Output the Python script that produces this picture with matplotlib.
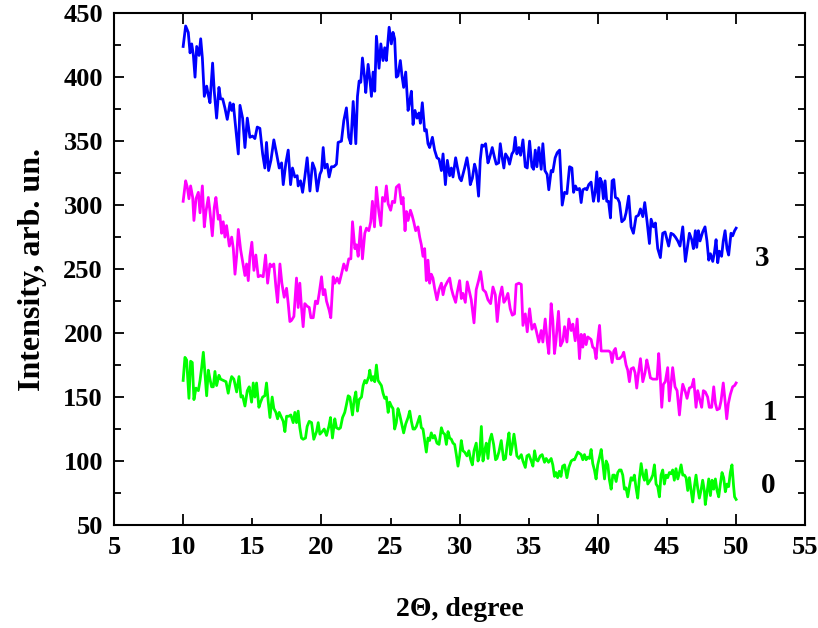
import matplotlib
matplotlib.use('Agg')
import matplotlib.pyplot as plt
from matplotlib.ticker import FixedLocator, FormatStrFormatter

plt.rcParams['font.family'] = ['Liberation Serif', 'DejaVu Serif']
plt.rcParams['font.weight'] = 'bold'

# curve "3" (blue)
x3 = [10.0, 10.18, 10.37, 10.5, 10.62, 10.74, 10.86, 10.98, 11.15, 11.27, 11.39, 11.53, 11.7, 11.82, 11.94,
      12.13, 12.25, 12.42, 12.59, 12.71, 12.86, 13.02, 13.19, 13.39, 13.51, 13.63, 13.75, 13.99, 14.11, 14.3,
      14.47, 14.64, 14.83, 15.02, 15.19, 15.36, 15.55, 15.75, 15.91, 16.03, 16.18, 16.35, 16.56, 16.76, 16.95,
      17.12, 17.24, 17.43, 17.6, 17.77, 17.91, 18.08, 18.25, 18.32, 18.49, 18.64, 18.8, 18.97, 19.17, 19.36,
      19.53, 19.7, 19.89, 20.01, 20.13, 20.25, 20.42, 20.56, 20.73, 20.9, 21.09, 21.21, 21.45, 21.62, 21.81,
      21.98, 22.13, 22.3, 22.49, 22.61, 22.73, 22.85, 22.97, 23.12, 23.21, 23.38, 23.5, 23.62, 23.74, 23.86,
      23.98, 24.17, 24.3, 24.46, 24.58, 24.7, 24.9,
      25.06, 25.18, 25.3, 25.42, 25.54, 25.71, 25.83, 25.95, 26.1, 26.27, 26.39, 26.51, 26.63, 26.77, 26.92,
      27.06, 27.16, 27.3, 27.47, 27.59, 27.71, 27.83, 28.03, 28.19, 28.36, 28.51, 28.68, 28.8, 28.97, 29.11,
      29.28, 29.4, 29.52, 29.71, 29.83, 30.0, 30.12, 30.24, 30.36, 30.53, 30.67, 30.77, 30.92, 31.08, 31.2,
      31.37, 31.49, 31.61, 31.73, 31.88, 32.05, 32.17, 32.36, 32.53, 32.65, 32.82, 32.94, 33.08, 33.2, 33.32,
      33.49, 33.61, 33.78, 33.9, 34.02, 34.14, 34.29, 34.41, 34.58, 34.75, 34.89, 35.06, 35.23, 35.35, 35.47,
      35.59, 35.73, 35.9, 36.02, 36.17, 36.33, 36.45, 36.62, 36.74, 36.91, 37.06, 37.23, 37.42, 37.59, 37.76,
      37.95, 38.12, 38.24, 38.38, 38.5, 38.67,
      38.79, 38.91, 39.08, 39.2, 39.34, 39.51, 39.68, 39.8, 39.92, 40.04, 40.16, 40.28, 40.4, 40.52, 40.64,
      40.77, 40.91, 41.03, 41.15, 41.27, 41.44, 41.56, 41.73, 41.92, 42.04, 42.23, 42.4, 42.57, 42.76, 42.93,
      43.08, 43.25, 43.39, 43.56, 43.73, 43.85, 44.02, 44.16, 44.33, 44.52, 44.69, 44.86, 44.98, 45.12, 45.29,
      45.46, 45.61, 45.78, 45.94, 46.14, 46.33, 46.45, 46.62, 46.79, 46.91, 47.05, 47.15, 47.27, 47.39, 47.58,
      47.75, 47.89, 48.02, 48.14, 48.31, 48.43, 48.55, 48.67, 48.79, 48.95, 49.07, 49.2, 49.34, 49.46, 49.63,
      49.75, 49.89, 50.0]
y3 = [424, 440, 435, 419, 426, 417, 400, 424, 417, 430, 415, 385, 393, 386, 380,
      411, 389, 368, 392, 383, 383, 376, 367, 380, 374, 379, 366, 340, 378, 368,
      345, 368, 353, 354, 352, 361, 360, 340, 329, 349, 327, 335, 351, 340, 329,
      333, 316, 333, 343, 316, 329, 322, 323, 315, 319, 310, 322, 337, 311, 333,
      328, 311, 324, 327, 345, 329, 332, 322, 330, 330, 332, 349, 350, 366, 376,
      353, 348, 381, 348, 385, 397, 396, 415, 400, 388, 410, 399, 385, 404, 389,
      432, 407, 426, 413, 423, 413, 439,
      426, 435, 430, 400, 401, 413, 401, 392, 404, 374, 381, 389, 363, 374, 368,
      372, 364, 380, 358, 359, 348, 345, 353, 343, 337, 336, 327, 340, 316, 335,
      323, 329, 322, 337, 330, 321, 319, 324, 329, 337, 327, 316, 321, 332, 327,
      307, 335, 347, 346, 348, 333, 337, 345, 337, 332, 333, 348, 337, 329, 340,
      337, 332, 340, 342, 353, 340, 345, 339, 351, 330, 329, 350, 330, 328, 343,
      330, 345, 328, 348, 327, 324, 312, 327, 326, 337, 341, 343, 300, 310, 309,
      330, 329, 310, 315, 312, 313,
      302, 312, 313, 312, 316, 318, 303, 310, 326, 303, 321, 318, 305, 319, 303,
      303, 290, 319, 320, 306, 305, 302, 287, 289, 294, 307, 283, 278, 291, 292,
      297, 291, 302, 287, 270, 289, 283, 286, 266, 259, 278, 279, 274, 268, 278,
      277, 275, 272, 268, 283, 256, 265, 278, 273, 266, 280, 267, 280, 272, 279,
      283, 272, 257, 262, 256, 263, 273, 255, 264, 260, 272, 280, 266, 261, 278,
      276, 280, 282]

# curve "1" (magenta)
x1 = [10.0, 10.18, 10.3, 10.42, 10.54, 10.69, 10.78, 10.93, 11.1, 11.22, 11.39, 11.53, 11.65, 11.82, 11.94,
      12.11, 12.25, 12.37, 12.54, 12.66, 12.78, 12.9, 13.02, 13.14, 13.34, 13.51, 13.63, 13.75, 13.87, 13.99,
      14.16, 14.3, 14.47, 14.59, 14.71, 14.83, 14.97, 15.12, 15.26, 15.43, 15.6, 15.79, 15.96, 16.11, 16.28,
      16.4, 16.56, 16.71, 16.83, 17.0, 17.14, 17.31, 17.48, 17.6, 17.72, 17.84, 18.01, 18.2, 18.32, 18.44,
      18.56, 18.68, 18.8, 18.97, 19.12, 19.24, 19.41, 19.57, 19.72, 19.84, 20.01, 20.13, 20.25, 20.37, 20.56,
      20.68, 20.85, 20.97, 21.14, 21.29, 21.45, 21.62, 21.81, 21.98, 22.13, 22.25, 22.42, 22.54, 22.66, 22.83,
      22.97, 23.14, 23.26, 23.43, 23.57, 23.69, 23.84, 23.98, 24.15, 24.3, 24.42, 24.58, 24.7, 24.83,
      25.01, 25.14, 25.3, 25.42, 25.62, 25.79, 25.91, 26.05, 26.15, 26.27, 26.44, 26.56, 26.68, 26.82, 26.99,
      27.11, 27.23, 27.35, 27.47, 27.59, 27.71, 27.83, 27.95, 28.07, 28.19, 28.36, 28.51, 28.68, 28.8, 28.92,
      29.11, 29.28, 29.4, 29.52, 29.71, 29.83, 30.0, 30.12, 30.24, 30.41, 30.55, 30.72, 30.84, 31.04, 31.2,
      31.37, 31.52, 31.69, 31.88, 32.05, 32.24, 32.41, 32.58, 32.72, 32.89, 33.06, 33.2, 33.32, 33.49, 33.66,
      33.81, 33.97, 34.09, 34.29, 34.46, 34.58, 34.75, 34.89, 35.06, 35.23, 35.42, 35.54, 35.73, 35.9, 36.02,
      36.19, 36.33, 36.45, 36.62, 36.74, 36.86, 36.97, 37.15, 37.3, 37.47, 37.59, 37.76, 37.9, 38.07, 38.19,
      38.36, 38.5, 38.67,
      38.79, 38.91, 39.03, 39.15, 39.27, 39.39, 39.51, 39.63, 39.75, 39.87, 39.99, 40.12, 40.24, 40.4, 40.6,
      40.79, 40.91, 41.03, 41.15, 41.27, 41.39, 41.56, 41.75, 41.87, 42.04, 42.16, 42.28, 42.4, 42.57, 42.69,
      42.81, 42.93, 43.08, 43.25, 43.41, 43.54, 43.66, 43.8, 43.97, 44.16, 44.28, 44.4, 44.5, 44.62, 44.74,
      44.88, 45.05, 45.17, 45.29, 45.41, 45.58, 45.73, 45.9, 46.02, 46.14, 46.33, 46.45, 46.62, 46.79, 46.93,
      47.1, 47.22, 47.39, 47.51, 47.63, 47.77, 47.94, 48.06, 48.23, 48.38, 48.5, 48.62, 48.79, 48.91, 49.07,
      49.2, 49.32, 49.44, 49.58, 49.75, 49.89, 50.0]
y1 = [303, 319, 314, 305, 315, 306, 288, 305, 310, 294, 315, 283, 295, 306, 295,
      276, 298, 306, 289, 292, 278, 287, 275, 284, 268, 275, 266, 246, 260, 281,
      265, 256, 245, 254, 241, 260, 271, 249, 261, 244, 245, 244, 261, 239, 254,
      252, 254, 236, 224, 254, 239, 228, 235, 223, 209, 210, 213, 243, 220, 239,
      220, 205, 223, 221, 220, 212, 212, 225, 223, 231, 244, 230, 234, 225, 218,
      212, 244, 239, 243, 239, 246, 254, 249, 258, 258, 287, 266, 269, 260, 283,
      258, 278, 282, 280, 287, 303, 283, 314, 295, 284, 306, 303, 315, 301,
      296, 303, 302, 314, 316, 301, 306, 280, 295, 288, 296, 292, 287, 280, 283,
      275, 269, 260, 266, 241, 257, 239, 246, 243, 235, 226, 234, 239, 230, 236,
      240, 243, 235, 230, 224, 232, 241, 227, 231, 224, 240, 232, 226, 208, 234,
      241, 248, 234, 232, 226, 223, 236, 230, 209, 228, 236, 224, 226, 231, 219,
      214, 215, 238, 239, 238, 206, 215, 201, 219, 203, 207, 202, 193, 202, 193,
      211, 194, 184, 223, 210, 184, 194, 217, 190, 194, 205, 193, 211, 202, 207,
      194, 211, 180,
      199, 189, 199, 191, 197, 196, 195, 189, 188, 180, 194, 206, 186, 186, 186,
      186, 185, 177, 186, 188, 180, 180, 182, 185, 175, 171, 162, 172, 173, 169,
      157, 168, 180, 162, 169, 179, 173, 165, 164, 164, 164, 184, 168, 142, 160,
      162, 173, 147, 160, 173, 158, 155, 136, 150, 160, 154, 149, 157, 158, 164,
      142, 155, 147, 142, 155, 154, 150, 142, 142, 158, 145, 140, 141, 147, 161,
      147, 133, 145, 152, 158, 159, 161]

# curve "0" (green)
x0 = [10.0, 10.13, 10.25, 10.42, 10.54, 10.66, 10.78, 10.93, 11.1, 11.22, 11.34, 11.46, 11.58, 11.7, 11.82,
      11.94, 12.06, 12.18, 12.3, 12.42, 12.59, 12.71, 12.9, 13.1, 13.26, 13.39, 13.51, 13.67, 13.87, 14.04,
      14.18, 14.3, 14.47, 14.64, 14.78, 14.95, 15.07, 15.19, 15.31, 15.48, 15.6, 15.75, 15.91, 16.03, 16.16,
      16.28, 16.44, 16.56, 16.71, 16.83, 16.95, 17.12, 17.24, 17.36, 17.48, 17.65, 17.79, 17.96, 18.08, 18.2,
      18.32, 18.44, 18.56, 18.68, 18.85, 18.97, 19.12, 19.29, 19.45, 19.65, 19.77, 19.89, 20.06, 20.2, 20.37,
      20.54, 20.66, 20.8, 20.97, 21.09, 21.26, 21.38, 21.53, 21.69, 21.81, 21.94, 22.06, 22.25, 22.37, 22.49,
      22.61, 22.73, 22.9, 23.02, 23.14, 23.26, 23.43, 23.5, 23.62, 23.74, 23.86, 23.98, 24.1, 24.22, 24.34,
      24.46, 24.58, 24.7, 24.83,
      24.94, 25.06, 25.18, 25.3, 25.42, 25.54, 25.67, 25.79, 25.95, 26.1, 26.27, 26.39, 26.51, 26.63, 26.75,
      26.87, 26.99, 27.11, 27.23, 27.35, 27.47, 27.59, 27.71, 27.83, 27.95, 28.07, 28.19, 28.36, 28.51, 28.68,
      28.8, 28.92, 29.04, 29.16, 29.28, 29.4, 29.52, 29.64, 29.76, 29.88, 30.0, 30.12, 30.24, 30.36, 30.53,
      30.67, 30.8, 30.92, 31.04, 31.2, 31.33, 31.45, 31.57, 31.69, 31.81, 31.93, 32.05, 32.17, 32.31, 32.46,
      32.6, 32.7, 32.84, 33.01, 33.18, 33.32, 33.44, 33.57, 33.69, 33.81, 33.93, 34.05, 34.14, 34.29, 34.46,
      34.58, 34.75, 34.87, 35.01, 35.18, 35.3, 35.42, 35.54, 35.66, 35.83, 35.97, 36.14, 36.26, 36.43, 36.62,
      36.74, 36.86, 36.97, 37.09, 37.21, 37.33, 37.45, 37.59, 37.76, 37.9, 38.07, 38.19, 38.31, 38.43, 38.55,
      38.79, 38.91, 39.03, 39.15, 39.27, 39.39, 39.51, 39.63, 39.75, 39.87, 39.99, 40.12, 40.24, 40.36, 40.48,
      40.6, 40.72, 40.84, 40.96, 41.08, 41.2, 41.32, 41.44, 41.56, 41.68, 41.8, 41.92, 42.04, 42.16, 42.28,
      42.4, 42.52, 42.64, 42.76, 42.88, 43.0, 43.13, 43.25, 43.37, 43.49, 43.61, 43.73, 43.85, 43.97, 44.09,
      44.21, 44.33, 44.45, 44.57, 44.69, 44.81, 44.93, 45.05, 45.17, 45.29, 45.41, 45.53, 45.65, 45.78, 45.9,
      46.02, 46.14, 46.26, 46.38, 46.5, 46.62, 46.74, 46.86, 46.98, 47.1, 47.22, 47.34, 47.46, 47.58, 47.7,
      47.77, 47.89, 48.02, 48.14, 48.26, 48.38, 48.5, 48.62, 48.74, 48.86, 48.98, 49.1, 49.22, 49.34, 49.46,
      49.58, 49.7, 49.82, 49.89, 50.0]
y0 = [163, 181, 179, 149, 178, 177, 148, 157, 155, 163, 173, 185, 168, 151, 171,
      164, 158, 158, 170, 159, 167, 164, 163, 162, 153, 161, 166, 164, 154, 166,
      150, 151, 143, 155, 158, 146, 161, 150, 161, 142, 146, 150, 151, 161, 146,
      134, 150, 141, 138, 133, 138, 134, 131, 123, 135, 135, 136, 130, 138, 130,
      139, 126, 118, 117, 118, 127, 131, 130, 117, 123, 130, 121, 123, 125, 120,
      127, 134, 118, 133, 126, 125, 126, 134, 138, 144, 151, 150, 136, 148, 154,
      139, 148, 150, 159, 163, 161, 166, 171, 163, 166, 162, 175, 163, 161, 159,
      153, 149, 150, 138,
      146, 143, 141, 125, 130, 141, 136, 130, 122, 129, 134, 139, 131, 125, 125,
      127, 131, 135, 126, 125, 116, 107, 118, 116, 122, 118, 120, 114, 113, 126,
      122, 121, 113, 123, 118, 117, 114, 113, 105, 96, 104, 116, 108, 107, 104,
      108, 101, 97, 108, 114, 100, 105, 127, 100, 108, 114, 102, 116, 121, 113,
      101, 102, 107, 116, 101, 102, 113, 122, 105, 112, 121, 112, 104, 102, 105,
      100, 95, 104, 105, 100, 96, 108, 101, 100, 104, 105, 99, 102, 99, 102,
      97, 88, 91, 87, 92, 88, 96, 97, 87, 95, 100, 101, 101, 104, 107,
      105, 101, 105, 101, 103, 102, 109, 98, 93, 86, 97, 103, 109, 98, 86,
      100, 97, 85, 78, 89, 89, 84, 91, 93, 93, 89, 78, 79, 72, 80,
      87, 85, 89, 79, 71, 86, 98, 89, 85, 93, 82, 84, 86, 89, 97,
      82, 80, 72, 89, 93, 82, 89, 87, 91, 90, 93, 85, 94, 86, 91,
      97, 89, 89, 87, 77, 87, 77, 68, 80, 89, 79, 71, 77, 85, 77,
      66, 75, 86, 73, 85, 78, 86, 77, 72, 82, 91, 87, 76, 82, 80,
      91, 97, 80, 72, 70]

curve_names = ['3', '1', '0']
curve_colors = ['#0000ff', '#ff00ff', '#00ff00']
name_pos = [(51.9, 258), (52.45, 138), (52.3, 81)]

xticks_major = [10, 20, 30, 40, 50]
xticks_minor = [5, 15, 25, 35, 45, 55]

fig = plt.figure(figsize=(8.18, 6.28), dpi=100)
ax = fig.add_axes([0.1394, 0.164, 0.845, 0.815])

for xs, ys, c in zip([x3, x1, x0], [y3, y1, y0], curve_colors):
    ax.plot(xs, ys, color=c, lw=2.0)

for name, (tx, ty) in zip(curve_names, name_pos):
    ax.text(tx, ty, name, fontsize=21, fontweight='bold', ha='center', va='center')

ax.set_xlim(5, 55)
ax.set_ylim(50, 450)
ax.xaxis.set_major_locator(FixedLocator(xticks_major))
ax.xaxis.set_minor_locator(FixedLocator(xticks_minor))
ax.xaxis.set_major_formatter(FormatStrFormatter('%d'))
ax.xaxis.set_minor_formatter(FormatStrFormatter('%d'))
ax.set_yticks(range(50, 451, 50))
ax.set_yticks(range(75, 450, 50), minor=True)

ax.tick_params(which='both', direction='in', top=True, right=True, width=1.3, labelsize=19)
ax.tick_params(axis='x', which='major', length=8, pad=8)
ax.tick_params(axis='x', which='minor', length=5, pad=8)
ax.tick_params(axis='y', which='major', length=7, pad=8)
ax.tick_params(axis='y', which='minor', length=5, pad=8)
for lab in ax.get_xticklabels(which='both') + ax.get_yticklabels():
    lab.set_fontweight('bold')
for s in ax.spines.values():
    s.set_linewidth(1.5)

ax.set_xlabel('2\u0398, degree', fontsize=20, fontweight='bold', labelpad=27)
ax.set_ylabel('Intensity, arb. un.', fontsize=23, fontweight='bold', labelpad=12)

fig.savefig('out.png', dpi=100)
